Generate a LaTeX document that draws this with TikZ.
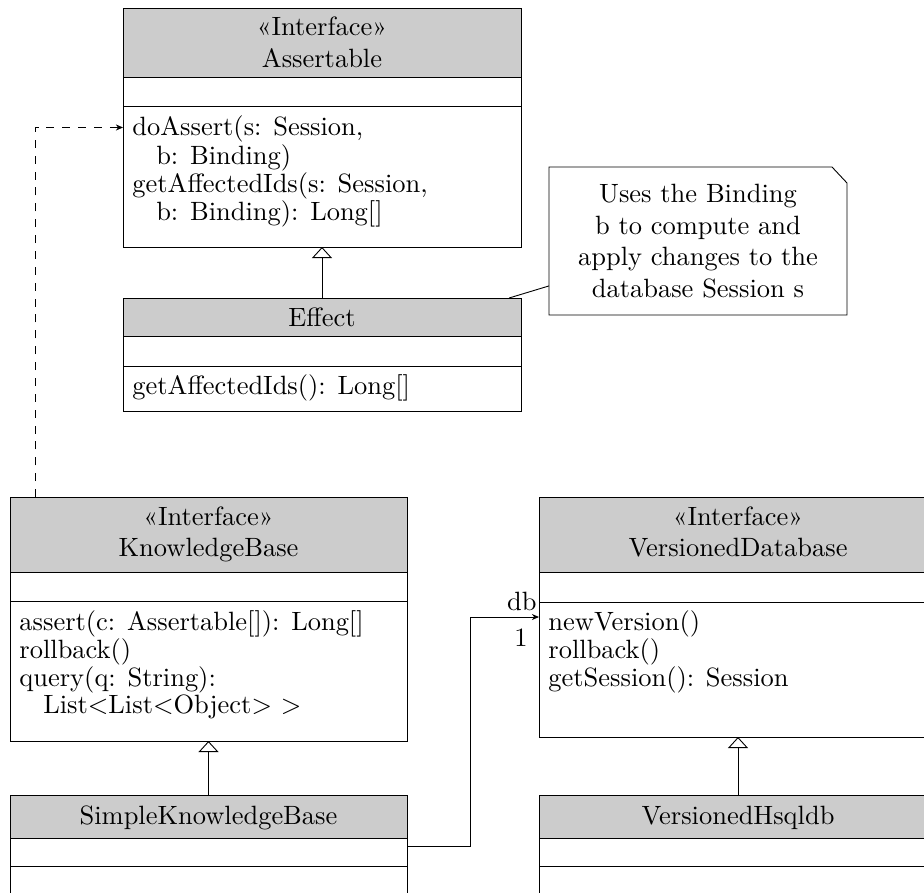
\documentclass[tikz,border=0pt]{standalone}
\usetikzlibrary{arrows.meta}
\newcommand{\pxu}{0.378pt}
\definecolor{hdrgray}{HTML}{CCCCCC}
% one UML class box: name, left, top, width, height, header bottom, empty-part bottom
\newcommand{\umlbox}[7]{%
  \node[clsbox, minimum width=#4*\pxu, minimum height=#5*\pxu] (#1) at (#2,#3) {};
  \fill[hdrgray] (#1.north west) rectangle ++(#4,#6);
  \draw (#1.north west) ++(0,#6) -- ++(#4,0);
  \draw (#1.north west) ++(0,#7) -- ++(#4,0);
  \draw (#1.north west) rectangle (#1.south east);
}
\begin{document}
\begin{tikzpicture}[x=\pxu,y=-\pxu, line width=0.34pt,
  clsbox/.style={inner sep=0pt, outer sep=0pt, anchor=north west},
  hdrtext/.style={anchor=base, inner sep=0pt},
  optext/.style={anchor=base west, inner sep=0pt, font=\fontsize{10}{10.36}\selectfont},
  inherit/.style={-{Triangle[open,length=4.2pt,width=7.6pt]}},
  navarrow/.style={-{Stealth[length=2.7pt,width=2.3pt]}},
  notebox/.style={inner sep=0pt, outer sep=0pt, anchor=north west, align=center}]
\useasboundingbox (0,0) rectangle (924,892);
\clip (0,0) rectangle (924,892);

% class boxes
\umlbox{A}{123}{8}{398}{239}{69}{98}
\umlbox{E}{123}{298}{398}{113}{38}{68}
\umlbox{KB}{10}{497}{397}{244}{75}{104}
\umlbox{VD}{539}{497}{398}{240}{75}{105}
\umlbox{SKB}{10}{795}{397}{102}{43}{71}
\umlbox{VH}{539}{795}{398}{102}{43}{71}

% class names
\node[hdrtext] (At) at (322,36) {\begin{tabular}[t]{@{}c@{}}«Interface»\\Assertable\end{tabular}};
\node[hdrtext] (Et) at (322,326) {Effect};
\node[hdrtext] (KBt) at (208.5,525) {\begin{tabular}[t]{@{}c@{}}«Interface»\\KnowledgeBase\end{tabular}};
\node[hdrtext] (VDt) at (738,525) {\begin{tabular}[t]{@{}c@{}}«Interface»\\VersionedDatabase\end{tabular}};
\node[hdrtext] (SKBt) at (208.5,824) {SimpleKnowledgeBase};
\node[hdrtext] (VHt) at (738,824) {VersionedHsqldb};

% operations
\node[optext] (Ao) at (132,136) {\begin{tabular}[t]{@{}l@{}}doAssert(s: Session,\\
\hspace*{9pt}b: Binding)\\
getAffectedIds(s: Session,\\
\hspace*{9pt}b: Binding): Long[]\end{tabular}};
\node[optext] (Eo) at (132,394) {getAffectedIds(): Long[]};
\node[optext] (KBo) at (19,630) {\begin{tabular}[t]{@{}l@{}}assert(c: Assertable[]): Long[]\\
rollback()\\
query(q: String):\\
\hspace*{9pt}List{$<$}List{$<$}Object{$>$} {$>$}\end{tabular}};
\node[optext] (VDo) at (548,630) {\begin{tabular}[t]{@{}l@{}}newVersion()\\
rollback()\\
getSession(): Session\end{tabular}};

% note
\node[notebox, minimum width=298*\pxu, minimum height=148*\pxu] (N) at (549,167)
  {Uses the Binding\\b to compute and\\apply changes to the\\database Session s};
\draw (N.north west) -- ([xshift=-15*\pxu]N.north east)
  -- ([yshift=-16*\pxu]N.north east) -- (N.south east) -- (N.south west) -- cycle;
\draw (N) -- (E);

% generalizations
\draw[inherit] (E) -- (A);
\draw[inherit] (SKB) -- (KB);
\draw[inherit] (VH) -- (VD);

% dependency
\draw[dashed, navarrow] ([xshift=25*\pxu]KB.north west) |- (A.west);

% association
\draw[navarrow] (SKB.east) -- ++(63,0) |- (VD.west);
\node[anchor=base east, inner sep=0pt] (db) at (537,610) {db};
\node[anchor=base east, inner sep=0pt] (one) at (528,646) {1};
\end{tikzpicture}
\end{document}
